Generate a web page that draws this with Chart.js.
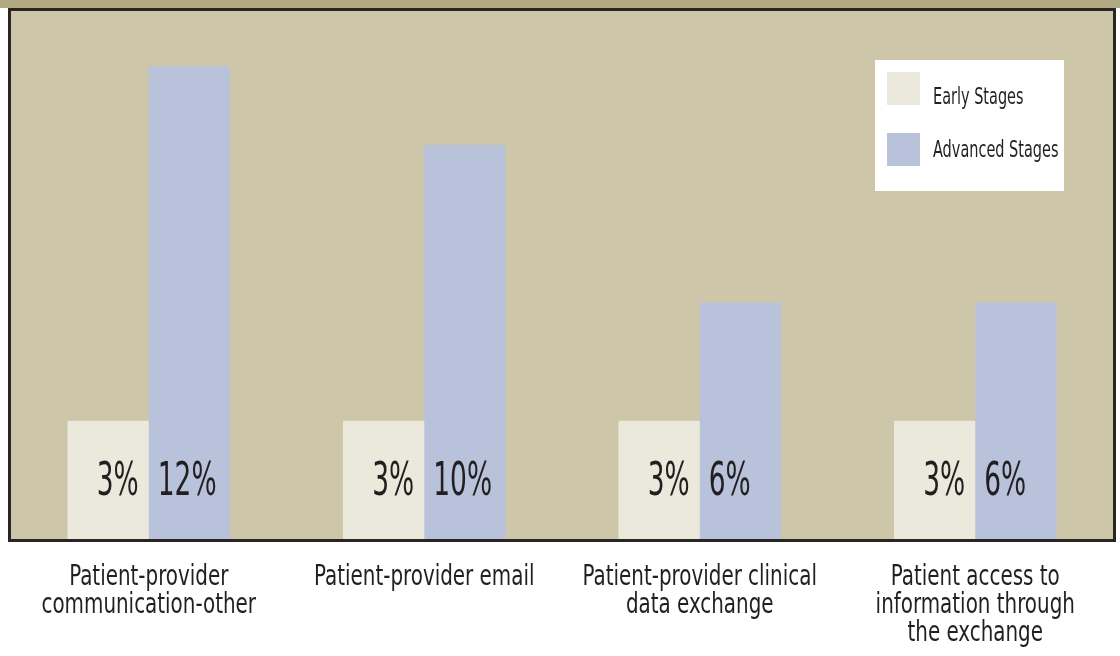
<!DOCTYPE html>
<html>
<head>
<meta charset="utf-8">
<script src="https://cdn.jsdelivr.net/npm/chart.js@4.4.1/dist/chart.umd.min.js"></script>
<style>
  html, body { margin: 0; padding: 0; background: #ffffff; }
  #wrap { width: 1120px; height: 656px; position: relative; }
</style>
</head>
<body>
<div id="wrap"><canvas id="c" width="1120" height="656"></canvas></div>
<script>
const categories = [
  ["Patient-provider", "communication-other"],
  ["Patient-provider email"],
  ["Patient-provider clinical", "data exchange"],
  ["Patient access to", "information through", "the exchange"]
];
const seriesNames = ["Early Stages", "Advanced Stages"];
const earlyValues = [3, 3, 3, 3];
const advancedValues = [12, 10, 6, 6];

const FONT = "'DejaVu Sans Condensed', 'Liberation Sans Narrow', sans-serif";
const TEXT_COLOR = '#231f20';

function drawScaledText(ctx, text, x, y, size, sx, align) {
  ctx.save();
  ctx.font = size + 'px ' + FONT;
  ctx.fillStyle = TEXT_COLOR;
  ctx.textAlign = align;
  ctx.textBaseline = 'alphabetic';
  ctx.translate(x, y);
  ctx.scale(sx, 1);
  ctx.fillText(text, 0, 0);
  ctx.restore();
}

const framePlugin = {
  id: 'frame',
  beforeDraw(chart) {
    const { ctx, chartArea: a, width, height } = chart;
    ctx.save();
    ctx.fillStyle = '#ffffff';
    ctx.fillRect(0, 0, width, height);
    ctx.fillStyle = '#b2a881';
    ctx.fillRect(0, 0, width, a.top - 3);
    ctx.fillStyle = '#cec6a8';
    ctx.fillRect(a.left, a.top, a.right - a.left, a.bottom - a.top);
    ctx.restore();
  },
  afterDatasetsDraw(chart) {
    const { ctx, chartArea: a } = chart;
    ctx.save();
    ctx.strokeStyle = '#2a2522';
    ctx.lineWidth = 3;
    ctx.strokeRect(a.left - 1.5, a.top - 1.5, (a.right - a.left) + 3, (a.bottom - a.top) + 3);
    ctx.restore();
    chart.data.datasets.forEach((ds, di) => {
      const meta = chart.getDatasetMeta(di);
      meta.data.forEach((bar, j) => {
        const txt = ds.data[j] + '%';
        const y = bar.base - 44;
        if (di === 0) {
          drawScaledText(ctx, txt, bar.x + bar.width / 2 - 10, y, 46, 0.64, 'right');
        } else {
          drawScaledText(ctx, txt, bar.x - bar.width / 2 + 9, y, 46, 0.64, 'left');
        }
      });
    });
  },
  afterDraw(chart) {
    const { ctx, chartArea: a } = chart;
    // category labels below the plot, positioned by the x scale
    const xs = chart.scales.x;
    chart.data.labels.forEach((lines, i) => {
      const cx = xs.getPixelForValue(i);
      lines.forEach((line, k) => {
        drawScaledText(ctx, line, cx, a.bottom + 46 + k * 28, 28, 0.79, 'center');
      });
    });
    // legend
    const bw = 189, bh = 131;
    const bx = a.right - 49 - bw, by = a.top + 49;
    ctx.save();
    ctx.fillStyle = '#ffffff';
    ctx.fillRect(bx, by, bw, bh);
    const offs = [[12, 44], [73, 97]];
    chart.data.datasets.forEach((ds, i) => {
      ctx.fillStyle = ds.backgroundColor;
      ctx.fillRect(bx + 12, by + offs[i][0], 33, 33);
      drawScaledText(ctx, ds.label, bx + 58, by + offs[i][1], 23, 0.70, 'left');
    });
    ctx.restore();
  }
};

new Chart(document.getElementById('c'), {
  type: 'bar',
  data: {
    labels: categories,
    datasets: [
      { label: seriesNames[0], data: earlyValues, backgroundColor: '#ebe8dc', borderWidth: 0,
        categoryPercentage: 0.59, barPercentage: 1.0 },
      { label: seriesNames[1], data: advancedValues, backgroundColor: '#b8c2db', borderWidth: 0,
        categoryPercentage: 0.59, barPercentage: 1.0 }
    ]
  },
  options: {
    responsive: false,
    animation: false,
    layout: { padding: { left: 11, right: 7, top: 11, bottom: 0 } },
    plugins: {
      legend: { display: false },
      tooltip: { enabled: false },
      title: { display: false }
    },
    scales: {
      x: {
        grid: { display: false, drawTicks: false },
        border: { display: false },
        ticks: { display: false },
        afterFit(scale) { scale.height = 117; }
      },
      y: {
        display: false,
        min: 0,
        max: 13.4
      }
    }
  },
  plugins: [framePlugin]
});
</script>
</body>
</html>
